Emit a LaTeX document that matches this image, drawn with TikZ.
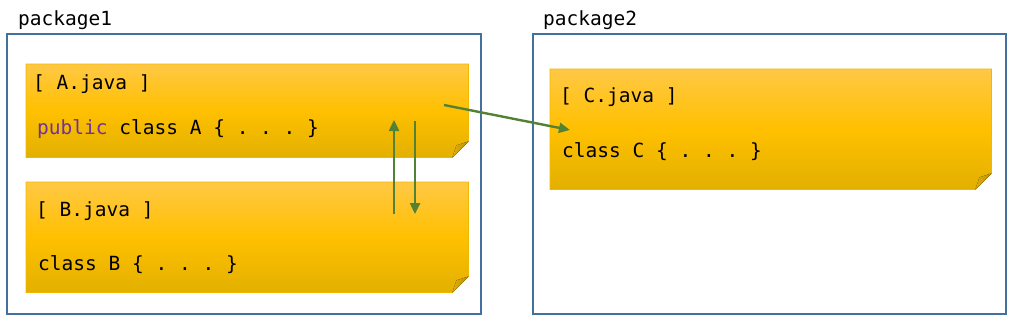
\documentclass[tikz,border=0pt]{standalone}
\usepackage{fontspec}
\setmonofont{DejaVu Sans Mono}
\usetikzlibrary{arrows.meta}

\definecolor{pkgblue}{HTML}{41719C}
\definecolor{notetop}{HTML}{FFC845}
\definecolor{notemid}{HTML}{FFC000}
\definecolor{notebot}{HTML}{E2B000}
\definecolor{noteline}{HTML}{F2B800}
\definecolor{foldlight}{HTML}{E0AE10}
\definecolor{folddark}{HTML}{BE9000}
\definecolor{arrgreen}{HTML}{548235}
\definecolor{kwpurple}{HTML}{7030A0}

% sticky note drawn over an (empty) named node
\newcommand{\drawnote}[1]{%
  \fill[top color=notetop, bottom color=notebot, middle color=notemid, draw=noteline, line width=0.8pt]
    (#1.north west) -- (#1.north east) -- ([yshift=16pt]#1.south east)
    -- ([xshift=-16pt]#1.south east) -- (#1.south west) -- cycle;
  \fill[left color=foldlight, right color=folddark]
    ([yshift=16pt]#1.south east) -- ([xshift=-12pt,yshift=12pt]#1.south east)
    -- ([xshift=-16pt]#1.south east) -- cycle;
}

\begin{document}
\begin{tikzpicture}[
    x=1pt, y=-1pt,
    font=\fontsize{19.5}{22}\selectfont\ttfamily,
    pkgbox/.style={draw=pkgblue, line width=2.4pt, fill=white},
    notebox/.style={rectangle, draw=none, inner sep=0pt, anchor=north west},
    codetext/.style={anchor=base west, inner sep=0pt},
    arr/.style={-{Triangle[length=11pt,width=10pt]}, draw=arrgreen, line width=2.4pt}
]
\useasboundingbox (0,0) rectangle (1018,324);

% packages
\draw[pkgbox] (7,34) rectangle (481,314);
\draw[pkgbox] (533,34) rectangle (1006,314);
\node[codetext] (pkg1_lbl) at (18,25) {package1};
\node[codetext] (pkg2_lbl) at (543,25) {package2};

% notes
\node[notebox, minimum width=442pt, minimum height=93pt] (noteA) at (26,64) {};
\node[notebox, minimum width=442pt, minimum height=110pt] (noteB) at (26,182) {};
\node[notebox, minimum width=441pt, minimum height=120pt] (noteC) at (550,69) {};
\drawnote{noteA}
\drawnote{noteB}
\drawnote{noteC}

\node[codetext] (a_file) at (33,89) {[ A.java ]};
\node[codetext] (a_code) at (37,134) {\textcolor{kwpurple}{public} class A \{ . . . \}};
\node[codetext] (b_file) at (36,216) {[ B.java ]};
\node[codetext] (b_code) at (38,270) {class B \{ . . . \}};
\node[codetext] (c_file) at (560,102) {[ C.java ]};
\node[codetext] (c_code) at (562,157) {class C \{ . . . \}};

% arrow ends
\coordinate (a_up) at (394,120);
\coordinate (b_up) at (394,214);
\coordinate (a_dn) at (415,121);
\coordinate (b_dn) at (415,214);
\coordinate (a_out) at (444,105);
\coordinate (c_in) at (570,130);

\draw[arr] (b_up) -- (a_up);
\draw[arr] (a_dn) -- (b_dn);
\draw[arr] (a_out) -- (c_in);

\end{tikzpicture}
\end{document}
